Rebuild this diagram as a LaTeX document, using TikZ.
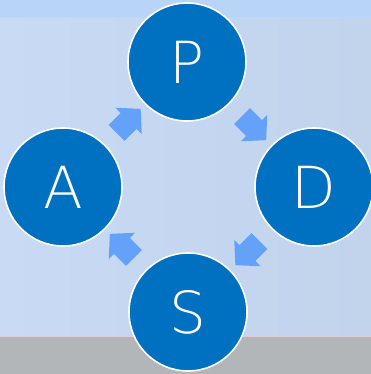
\documentclass[tikz,border=0pt]{standalone}
\usepackage{fontspec}
\IfFontExistsTF{DejaVuSans-ExtraLight.ttf}
  {\setmainfont{DejaVuSans-ExtraLight.ttf}}
  {\setmainfont{Liberation Sans}}
\usetikzlibrary{shapes.arrows,calc}
\definecolor{topband}{HTML}{B8D4F6}
\definecolor{mainbg}{HTML}{C8DAF4}
\definecolor{mainbgr}{HTML}{C2D3EC}
\definecolor{grayband}{HTML}{B3B6B8}
\definecolor{seam}{HTML}{E2CBD6}
\definecolor{circfill}{HTML}{0070C0}
\definecolor{arrowfill}{HTML}{64A2FA}
\tikzset{
  letter/.style={circle, fill=circfill, draw=white, line width=1.6pt,
    minimum size=118pt, inner sep=0pt, text=white,
    font=\fontsize{58}{58}\selectfont},
  blockarrow/.style={single arrow, fill=arrowfill, draw=none,
    minimum height=34pt, inner sep=11pt, single arrow head extend=7.5pt,
    single arrow tip angle=95, anchor=center}
}
\begin{document}
\begin{tikzpicture}[x=1pt,y=1pt]
\useasboundingbox (0,0) rectangle (371,374);
\shade[left color=mainbg, right color=mainbgr] (0,38) rectangle (371,357);
\fill[topband] (0,357) rectangle (371,374);
\fill[grayband] (0,0) rectangle (371,38);
\draw[seam, line width=0.8pt] (0,357) -- (371,357);
\draw[seam, line width=0.8pt] (0,38) -- (371,38);
\node[letter] (P) at (187,312) {P};
\node[letter] (D) at (314,187) {D};
\node[letter] (S) at (188,62) {S};
\node[letter] (A) at (63,187) {A};
\node[blockarrow, rotate=-45] (a1) at ($(P)!0.5!(D)$) {};
\node[blockarrow, rotate=-135] (a2) at ($(D)!0.5!(S)$) {};
\node[blockarrow, rotate=135] (a3) at ($(S)!0.5!(A)$) {};
\node[blockarrow, rotate=45] (a4) at ($(A)!0.5!(P)$) {};
\end{tikzpicture}
\end{document}
